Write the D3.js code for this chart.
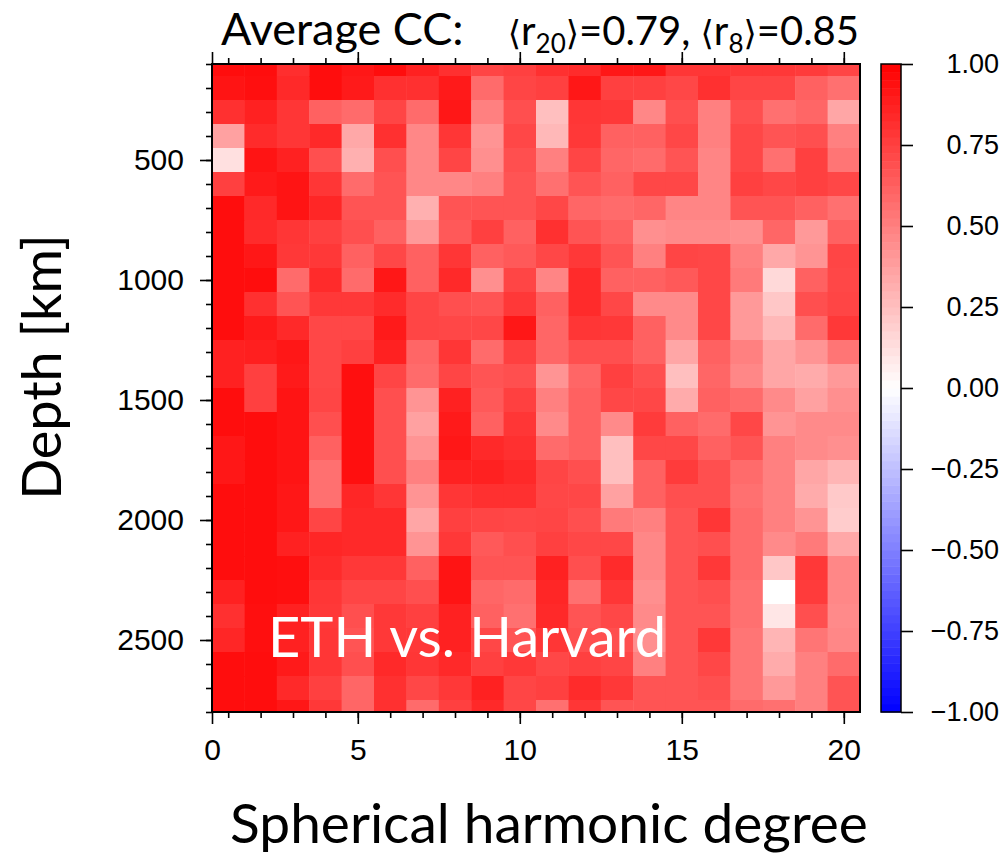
<!DOCTYPE html>
<html><head><meta charset="utf-8">
<script src="https://cdn.jsdelivr.net/npm/d3@7"></script>
<style>body{margin:0;background:#fff}</style>
</head><body>
<svg id="chart" width="1004" height="854"></svg>
<script>
// ---- data ----
const degrees = [1,2,3,4,5,6,7,8,9,10,11,12,13,14,15,16,17,18,19,20];
const depths = [100,200,300,400,500,600,700,800,900,1000,1100,1200,1300,1400,1500,1600,1700,1800,1900,2000,2100,2200,2300,2400,2500,2600,2700,2800];
// correlation coefficient per depth row (top to bottom), per degree 1..20
const cc = [
 [.95,.95,.82,.95,.91,.95,.87,.81,.73,.75,.81,.83,.91,.91,.79,.79,.78,.78,.77,.73],
 [.92,.94,.84,.95,.90,.81,.81,.90,.58,.73,.75,.91,.75,.75,.72,.81,.73,.73,.62,.56],
 [.81,.87,.79,.62,.58,.73,.58,.91,.50,.69,.25,.79,.78,.47,.69,.50,.69,.56,.60,.35],
 [.37,.83,.79,.84,.34,.81,.47,.79,.42,.72,.28,.78,.62,.62,.72,.50,.72,.67,.69,.50],
 [.12,.92,.87,.69,.31,.69,.47,.73,.44,.69,.50,.73,.60,.58,.67,.48,.72,.56,.75,.54],
 [.75,.90,.92,.79,.58,.67,.47,.47,.50,.67,.56,.67,.62,.72,.72,.48,.75,.72,.75,.72],
 [.95,.84,.92,.85,.67,.67,.31,.67,.67,.67,.72,.60,.58,.60,.48,.48,.67,.67,.62,.56],
 [.95,.83,.79,.75,.69,.62,.40,.65,.75,.62,.81,.67,.62,.44,.46,.46,.44,.60,.40,.62],
 [.95,.91,.78,.78,.62,.72,.62,.79,.62,.65,.72,.78,.67,.50,.73,.72,.50,.34,.42,.73],
 [.95,.95,.58,.83,.58,.91,.62,.84,.44,.73,.48,.83,.62,.62,.65,.72,.52,.15,.62,.72],
 [.95,.81,.67,.78,.78,.83,.73,.69,.67,.78,.62,.83,.72,.46,.46,.72,.40,.22,.69,.73],
 [.95,.90,.84,.72,.72,.90,.73,.72,.72,.91,.60,.79,.78,.62,.46,.72,.40,.28,.58,.78],
 [.87,.88,.91,.72,.75,.87,.60,.79,.58,.75,.60,.69,.69,.62,.35,.62,.50,.35,.42,.54],
 [.87,.75,.90,.72,.94,.73,.58,.73,.67,.69,.42,.60,.75,.69,.25,.60,.47,.35,.33,.40],
 [.95,.75,.92,.73,.94,.69,.42,.87,.65,.75,.50,.62,.72,.72,.33,.62,.58,.46,.37,.44],
 [.95,.95,.92,.69,.94,.69,.37,.90,.62,.79,.46,.62,.46,.77,.62,.58,.72,.42,.46,.46],
 [.91,.95,.92,.62,.94,.69,.42,.91,.84,.81,.58,.62,.25,.72,.72,.62,.67,.50,.46,.44],
 [.91,.95,.92,.56,.94,.69,.50,.87,.87,.84,.73,.69,.25,.62,.77,.69,.58,.50,.35,.29],
 [.95,.95,.91,.56,.85,.79,.42,.79,.81,.81,.72,.72,.37,.62,.69,.69,.56,.50,.33,.21],
 [.95,.95,.91,.73,.84,.84,.35,.75,.73,.72,.73,.69,.52,.50,.67,.79,.58,.50,.42,.20],
 [.95,.95,.87,.85,.84,.84,.42,.78,.65,.69,.75,.72,.72,.47,.67,.69,.58,.46,.52,.34],
 [.95,.95,.94,.83,.78,.78,.62,.92,.67,.67,.87,.69,.83,.47,.67,.78,.58,.22,.78,.47],
 [.87,.95,.94,.79,.73,.73,.69,.92,.60,.58,.85,.56,.79,.44,.67,.69,.56,.00,.77,.47],
 [.81,.94,.87,.78,.69,.78,.75,.87,.62,.56,.84,.67,.72,.46,.67,.67,.56,.10,.69,.46],
 [.85,.94,.87,.79,.67,.78,.78,.87,.72,.67,.79,.69,.69,.44,.67,.78,.54,.29,.54,.47],
 [.95,.95,.90,.79,.69,.84,.79,.84,.75,.78,.72,.75,.73,.50,.67,.72,.54,.33,.50,.58],
 [.95,.95,.84,.75,.60,.81,.72,.78,.87,.73,.75,.83,.78,.67,.67,.69,.54,.40,.50,.67],
 [.95,.95,.91,.78,.60,.81,.58,.75,.84,.72,.56,.79,.67,.67,.67,.67,.58,.56,.50,.67]
];
const xTickValues = [0.5, 5, 10, 15, 20];
const xTickLabels = ["0", "5", "10", "15", "20"];
const yTickValues = [500, 1000, 1500, 2000, 2500];
const cbarTicks = [-1, -0.75, -0.5, -0.25, 0, 0.25, 0.5, 0.75, 1];
const titleMain = "Average CC:";
const r20 = "0.79", r8 = "0.85";
const label = "ETH vs. Harvard";

// ---- layout ----
const L = 212, T = 64, W = 648, H = 648;
const svg = d3.select("#chart");
const x = d3.scaleLinear().domain([0.5, 20.5]).range([L, L + W]);
const y = d3.scaleLinear().domain([100, 2800]).range([T, T + H]);
const color = d3.scaleLinear().domain([-1, 0, 1]).range(["#0000ff", "#ffffff", "#ff0000"]);

const cells = [];
cc.forEach((row, i) => row.forEach((v, j) => cells.push({deg: degrees[j], dep: depths[i], v})));

svg.append("defs").append("clipPath").attr("id", "clip")
  .append("rect").attr("x", L).attr("y", T).attr("width", W).attr("height", H);

svg.append("g").attr("clip-path", "url(#clip)")
  .selectAll("rect").data(cells).join("rect")
  .attr("x", d => x(d.deg - 0.5))
  .attr("y", d => y(d.dep - 50))
  .attr("width", x(1.5) - x(0.5) + 0.5)
  .attr("height", y(150) - y(50) + 0.5)
  .attr("fill", d => color(d.v));

// label inside plot
svg.append("text").attr("x", 268).attr("y", 657)
  .attr("font-family", "Lato, sans-serif").attr("font-size", 56)
  .attr("fill", "#fff").text(label);

// axes
const tickFont = "'Liberation Sans', Arial, sans-serif";
function styleAxis(g) {
  g.select(".domain").remove();
  g.selectAll("line").attr("stroke", "#000").attr("stroke-width", 1.6);
  g.selectAll("text").attr("font-family", tickFont).attr("font-size", 30).attr("fill", "#000");
}
svg.append("g").attr("transform", `translate(0,${T + H})`)
  .call(d3.axisBottom(x).tickValues(xTickValues).tickFormat((d, i) => xTickLabels[i]).tickSize(12).tickPadding(15))
  .call(styleAxis);
svg.append("g").attr("transform", `translate(0,${T + H})`)
  .call(d3.axisBottom(x).tickValues(degrees).tickFormat("").tickSize(6))
  .call(styleAxis);
svg.append("g").attr("transform", `translate(0,${T})`)
  .call(d3.axisTop(x).tickValues(xTickValues).tickFormat("").tickSize(12))
  .call(styleAxis);
svg.append("g").attr("transform", `translate(0,${T})`)
  .call(d3.axisTop(x).tickValues(degrees).tickFormat("").tickSize(6))
  .call(styleAxis);
svg.append("g").attr("transform", `translate(${L},0)`)
  .call(d3.axisLeft(y).tickValues(yTickValues).tickFormat(d3.format("d")).tickSize(12).tickPadding(16))
  .call(styleAxis);
svg.append("g").attr("transform", `translate(${L},0)`)
  .call(d3.axisLeft(y).tickValues(depths).tickFormat("").tickSize(6))
  .call(styleAxis);

svg.append("rect").attr("x", L).attr("y", T).attr("width", W).attr("height", H)
  .attr("fill", "none").attr("stroke", "#000").attr("stroke-width", 2);

// colorbar
const CBX = 881, CBW = 20;
const cy = d3.scaleLinear().domain([-1, 1]).range([T + H, T]);
const steps = d3.range(-1, 1, 0.025);
svg.append("g").selectAll("rect").data(steps).join("rect")
  .attr("x", CBX).attr("width", CBW)
  .attr("y", d => cy(d + 0.025)).attr("height", cy(0) - cy(0.025) + 0.5)
  .attr("fill", d => color(d + 0.0125));
svg.append("rect").attr("x", CBX).attr("y", T).attr("width", CBW).attr("height", H)
  .attr("fill", "none").attr("stroke", "#000").attr("stroke-width", 1.5);
const cbAxis = svg.append("g").attr("transform", `translate(${CBX + CBW},0)`)
  .call(d3.axisRight(cy).tickValues(cbarTicks).tickFormat(d3.format(".2f")).tickSize(12))
  .call(styleAxis);
cbAxis.selectAll("text").attr("text-anchor", "end").attr("x", 98).attr("font-size", 27);

// titles
const titleFont = "Lato, sans-serif";
svg.append("text").attr("x", 221).attr("y", 45)
  .attr("font-family", titleFont).attr("font-size", 45).text(titleMain);
const t2 = svg.append("text").attr("x", 859).attr("y", 45).attr("text-anchor", "end")
  .attr("font-family", titleFont).attr("font-size", 40);
t2.append("tspan").attr("font-family", "'DejaVu Sans'").attr("font-size", 34).text("\u27E8");
t2.append("tspan").text("r");
t2.append("tspan").attr("font-size", 26).attr("dy", 8).text("20");
t2.append("tspan").attr("dy", -8).attr("font-family", "'DejaVu Sans'").attr("font-size", 34).text("\u27E9");
t2.append("tspan").text("=" + r20 + ", ");
t2.append("tspan").attr("font-family", "'DejaVu Sans'").attr("font-size", 34).text("\u27E8");
t2.append("tspan").text("r");
t2.append("tspan").attr("font-size", 26).attr("dy", 8).text("8");
t2.append("tspan").attr("dy", -8).attr("font-family", "'DejaVu Sans'").attr("font-size", 34).text("\u27E9");
t2.append("tspan").text("=" + r8);

svg.append("text").attr("transform", "translate(61,367) rotate(-90)")
  .attr("text-anchor", "middle").attr("font-family", titleFont).attr("font-size", 54)
  .text("Depth [km]");
svg.append("text").attr("x", 549).attr("y", 843).attr("text-anchor", "middle")
  .attr("font-family", titleFont).attr("font-size", 55)
  .text("Spherical harmonic degree");
</script>
</body></html>
